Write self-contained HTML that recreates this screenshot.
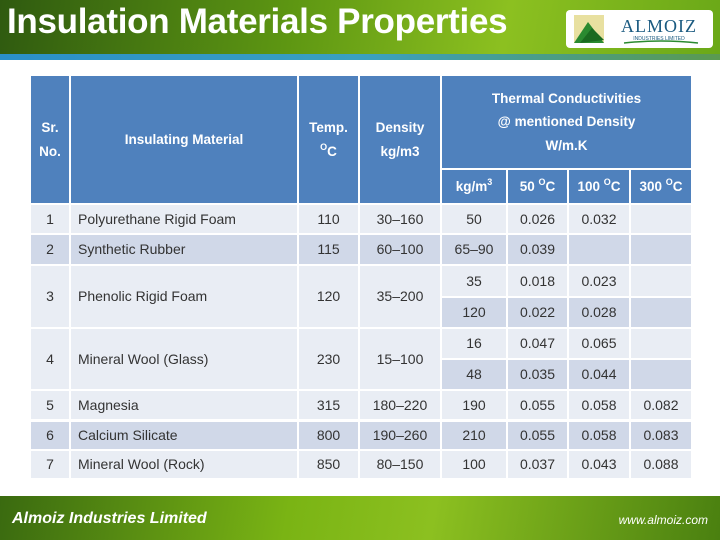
<!DOCTYPE html>
<html><head><meta charset="utf-8"><style>
*{margin:0;padding:0;box-sizing:border-box}
body{width:720px;height:540px;position:relative;overflow:hidden;background:#fff;font-family:"Liberation Sans",sans-serif}
.hdr{position:absolute;left:0;top:0;width:720px;height:54px;background:linear-gradient(100deg,#2f5a10 0%,#5d9612 40%,#8cc020 70%,#6aa818 100%)}
.strip{position:absolute;left:0;top:54px;width:720px;height:6px;background:linear-gradient(90deg,#2a8fc8,#3aa0c0 50%,#5a9a50)}
.title{position:absolute;left:7px;top:2px;color:#fff;font-weight:bold;font-size:35px;letter-spacing:-0.3px;white-space:nowrap}
.logo{position:absolute;left:566px;top:10px;width:147px;height:38px;background:#fff;border-radius:4px}
.c{position:absolute;display:flex;align-items:center;justify-content:center;font-size:14px;color:#333;text-align:center;line-height:1.45}
.h{background:#4f81bd;color:#fff;font-weight:bold;font-size:13.5px;line-height:1.75}
.l{background:#e9edf4}.d{background:#d0d8e8}
.left{justify-content:flex-start;padding-left:7px}
sup{font-size:9px;vertical-align:6px;line-height:0}
.ftr{position:absolute;left:0;top:496px;width:720px;height:44px;background:linear-gradient(100deg,#3a6a10,#7ab414 40%,#8cc020 60%,#4a8010)}
</style></head><body>
<div class="hdr"></div>
<div class="strip"></div>
<div class="title">Insulation Materials Properties</div>
<div class="logo">
<svg width="147" height="38"><rect x="8" y="5" width="30" height="28" fill="#e8e0a0"/><polygon points="8,33 22,12 38,33" fill="#2a8a30"/><polygon points="14,33 26,18 38,30" fill="#1a6a20"/><text x="93" y="22" font-family="Liberation Serif" font-size="18" fill="#1a5a80" text-anchor="middle" letter-spacing="1">ALMOIZ</text><text x="93" y="30" font-family="Liberation Sans" font-size="5" fill="#1a5a80" text-anchor="middle">INDUSTRIES LIMITED</text><path d="M58 33 Q95 29 132 33" stroke="#2a8a30" stroke-width="1.5" fill="none"/></svg>
</div>
<div id="tbl"></div>
<div class="ftr"></div>
<div style="position:absolute;left:12px;top:510px;color:#fff;font-style:italic;font-weight:bold;font-size:16px">Almoiz Industries Limited</div>
<div style="position:absolute;right:12px;top:513px;color:#fff;font-style:italic;font-size:12px">www.almoiz.com</div>
<script>
const X=[31,71,299,360,442,508,569,631,693];
const cells=[
[0,1,76,203,'h','Sr.<br>No.'],[1,2,76,203,'h','Insulating Material'],[2,3,76,203,'h','Temp.<br><sup>O</sup>C'],[3,4,76,203,'h','Density<br>kg/m3'],
[4,8,76,168,'h','Thermal Conductivities<br>@ mentioned Density<br>W/m.K'],
[4,5,170,203,'h','kg/m<sup>3</sup>'],[5,6,170,203,'h','50 <sup>O</sup>C'],[6,7,170,203,'h','100 <sup>O</sup>C'],[7,8,170,203,'h','300 <sup>O</sup>C']
];
const rows=[
['1','Polyurethane Rigid Foam','110','30–160',[['50','0.026','0.032','']],205,233,'l'],
['2','Synthetic Rubber','115','60–100',[['65–90','0.039','','']],235,264,'d'],
['3','Phenolic Rigid Foam','120','35–200',[['35','0.018','0.023',''],['120','0.022','0.028','']],266,327,'l'],
['4','Mineral Wool (Glass)','230','15–100',[['16','0.047','0.065',''],['48','0.035','0.044','']],329,389,'l'],
['5','Magnesia','315','180–220',[['190','0.055','0.058','0.082']],391,419,'l'],
['6','Calcium Silicate','800','190–260',[['210','0.055','0.058','0.083']],422,449,'d'],
['7','Mineral Wool (Rock)','850','80–150',[['100','0.037','0.043','0.088']],451,478,'l']
];
rows.forEach(r=>{
 const [n,m,t,dn,subs,y0,y1,cl]=r;
 cells.push([0,1,y0,y1,cl,n],[1,2,y0,y1,cl+' left',m],[2,3,y0,y1,cl,t],[3,4,y0,y1,cl,dn]);
 if(subs.length==1){subs[0].forEach((v,i)=>cells.push([4+i,5+i,y0,y1,cl,v]));}
 else{const mid=Math.round((y0+y1)/2);subs[0].forEach((v,i)=>cells.push([4+i,5+i,y0,mid-1,'l',v]));subs[1].forEach((v,i)=>cells.push([4+i,5+i,mid+1,y1,'d',v]));}
});
const tbl=document.getElementById('tbl');
cells.forEach(c=>{
 const el=document.createElement('div');
 
 
 el.className='c '+c[4];
 el.style.left=X[c[0]]+'px';el.style.width=(X[c[1]]-X[c[0]]-2)+'px';
 el.style.top=c[2]+'px';el.style.height=(c[3]-c[2])+'px';
 el.innerHTML='<span>'+c[5]+'</span>';
 tbl.appendChild(el);
});
</script>
</body></html>
